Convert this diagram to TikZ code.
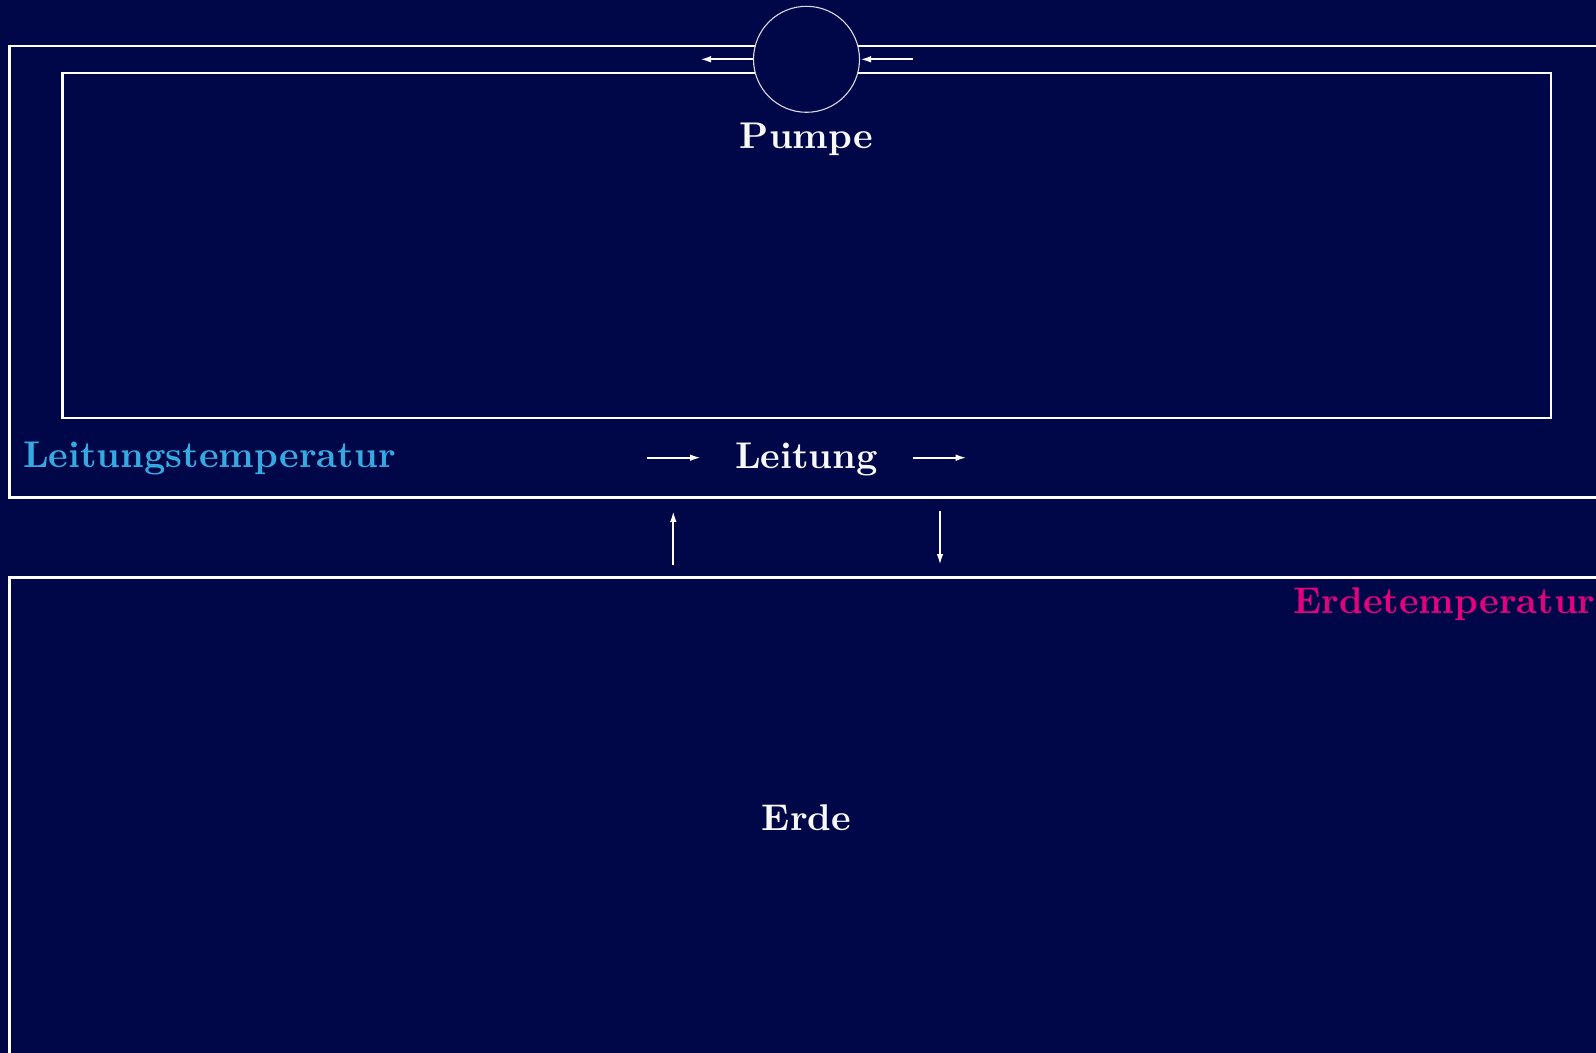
\documentclass[tikz,border=0pt]{standalone}
\usepackage{graphicx}
\usetikzlibrary{arrows.meta}
\definecolor{bgnavy}{RGB}{0,7,72}
\definecolor{fgwhite}{RGB}{248,248,248}
\definecolor{lcyan}{RGB}{54,169,225}
\definecolor{emag}{RGB}{229,0,125}
\newcommand{\bigbf}[1]{\scalebox{1.86}{\fontsize{10}{12}\selectfont\bfseries #1}}
\tikzset{
  pipe/.style={draw=white, line width=1.1pt},
  flow/.style={draw=white, line width=1pt, -{Latex[length=5.5pt,width=3.3pt]}},
  lbl/.style={inner sep=0pt, anchor=base},
}
\begin{document}
\begin{tikzpicture}[x=0.5pt,y=-0.5pt]
\fill[bgnavy] (0,0) rectangle (1596,1053);
\useasboundingbox (0,0) rectangle (1596,1053);
\clip (0,0) rectangle (1596,1053);
% outer pipe
\coordinate (otr) at (1610,45.7);
\coordinate (otl) at (9.5,45.7);
\coordinate (obl) at (9.5,497.5);
\coordinate (obr) at (1610,497.5);
\draw[pipe] (otr) -- (otl) -- (obl) -- (obr);
% inner rectangle
\coordinate (itl) at (62.5,72.7);
\coordinate (ibr) at (1551,417.7);
\draw[pipe] (itl) rectangle (ibr);
% earth
\coordinate (etr) at (1610,577.5);
\coordinate (etl) at (9.5,577.5);
\coordinate (ebl) at (9.5,1070);
\draw[pipe] (etr) -- (etl) -- (ebl);
% pump
\node[circle, draw=white!85!bgnavy, fill=bgnavy, line width=0.55pt, minimum size=53pt, inner sep=0pt] (pump) at (806.5,59.3) {};
\coordinate (pa1) at (913,59.3);
\coordinate (pa2) at (700,59.3);
\draw[flow] (pa1) -- (pump.east);
\draw[flow] (pump.west) -- (pa2);
\node[lbl, text=fgwhite] (pumplbl) at (806.5,149) {\bigbf{Pumpe}};
% Leitung
\node[lbl, text=fgwhite] (leitung) at (806.5,468.3) {\bigbf{Leitung}};
\coordinate (la1) at (646.7,457.7);
\coordinate (la2) at (701,457.7);
\coordinate (la3) at (912.7,457.7);
\coordinate (la4) at (966.7,457.7);
\draw[flow] (la1) -- (la2);
\draw[flow] (la3) -- (la4);
% vertical
\coordinate (u1) at (673.3,565);
\coordinate (u2) at (673.3,511);
\coordinate (d1) at (940,511);
\coordinate (d2) at (940,565);
\draw[flow] (u1) -- (u2);
\draw[flow] (d1) -- (d2);
% labels
\node[lbl, text=lcyan, anchor=base west] (ltemp) at (22.7,468) {\bigbf{Leitungstemperatur}};
\node[lbl, text=emag, anchor=base east] (etemp) at (1596,613) {\bigbf{Erdetemperatur}};
\node[lbl, text=fgwhite] (erde) at (806.5,830.5) {\bigbf{Erde}};
\end{tikzpicture}
\end{document}
